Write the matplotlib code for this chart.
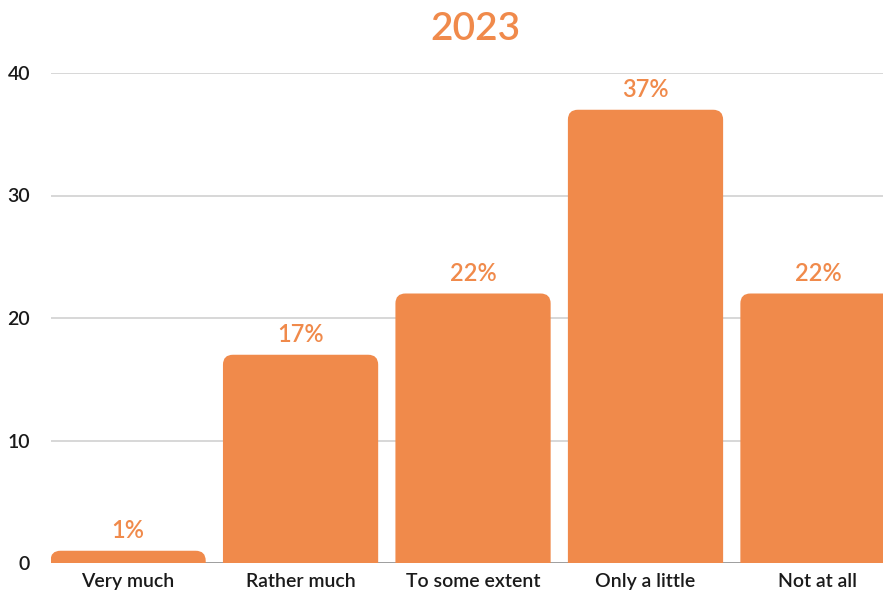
import matplotlib
matplotlib.use("Agg")
import matplotlib.pyplot as plt
from matplotlib.patches import FancyBboxPatch

categories = ["Very much", "Rather much", "To some extent", "Only a little", "Not at all"]
values = [1, 17, 22, 37, 22]
yticks = [0, 10, 20, 30, 40]
title = "2023"

ORANGE = "#F08A4B"
TEXT = "#1a1a1a"
FONT = ["Lato", "DejaVu Sans"]

plt.rcParams["font.family"] = FONT

W, H = 883, 594
fig = plt.figure(figsize=(W / 100, H / 100), dpi=100)
ax = fig.add_axes([51 / W, 31 / H, 832 / W, 490 / H])

xlim = (-0.447, 4.377)
ylim = (0, 40)
ax.set_xlim(*xlim)
ax.set_ylim(*ylim)

# pixel scale of data units, used to keep the corner rounding circular
px_per_x = 832 / (xlim[1] - xlim[0])
px_per_y = 490 / (ylim[1] - ylim[0])
aspect = px_per_x / px_per_y

bar_w = 0.9
radius = 10 / px_per_x
for i, v in enumerate(values):
    extra = radius * aspect
    patch = FancyBboxPatch(
        (i - bar_w / 2, -extra), bar_w, v + extra,
        boxstyle=f"round,pad=0,rounding_size={radius}",
        mutation_aspect=aspect,
        facecolor=ORANGE, edgecolor="none", zorder=3, clip_on=True,
    )
    ax.add_patch(patch)
    ax.annotate(f"{v}%", xy=(i, v), xytext=(0, 6), textcoords="offset points",
                ha="center", va="bottom", color=ORANGE, fontsize=17,
                fontweight="semibold", zorder=4, annotation_clip=False)

ax.set_yticks(yticks)
ax.set_yticklabels([str(t) for t in yticks])
ax.set_xticks(range(len(categories)))
ax.set_xticklabels(categories)
ax.tick_params(axis="y", length=0, pad=15, labelsize=14, labelcolor=TEXT)
ax.tick_params(axis="x", length=0, pad=7, labelsize=14, labelcolor=TEXT)
for lbl in ax.get_xticklabels() + ax.get_yticklabels():
    lbl.set_fontweight("semibold")

ax.grid(axis="y", color="#d4d4d4", linewidth=1.3, zorder=1)
ax.axhline(0, color="#9a9a9a", linewidth=1.3, zorder=2)
for s in ax.spines.values():
    s.set_visible(False)

fig.text(0.538, 1 - 29 / H, title, ha="center", va="center",
         color=ORANGE, fontsize=28, fontweight="semibold")

fig.savefig("out.png", dpi=100, facecolor="white")
